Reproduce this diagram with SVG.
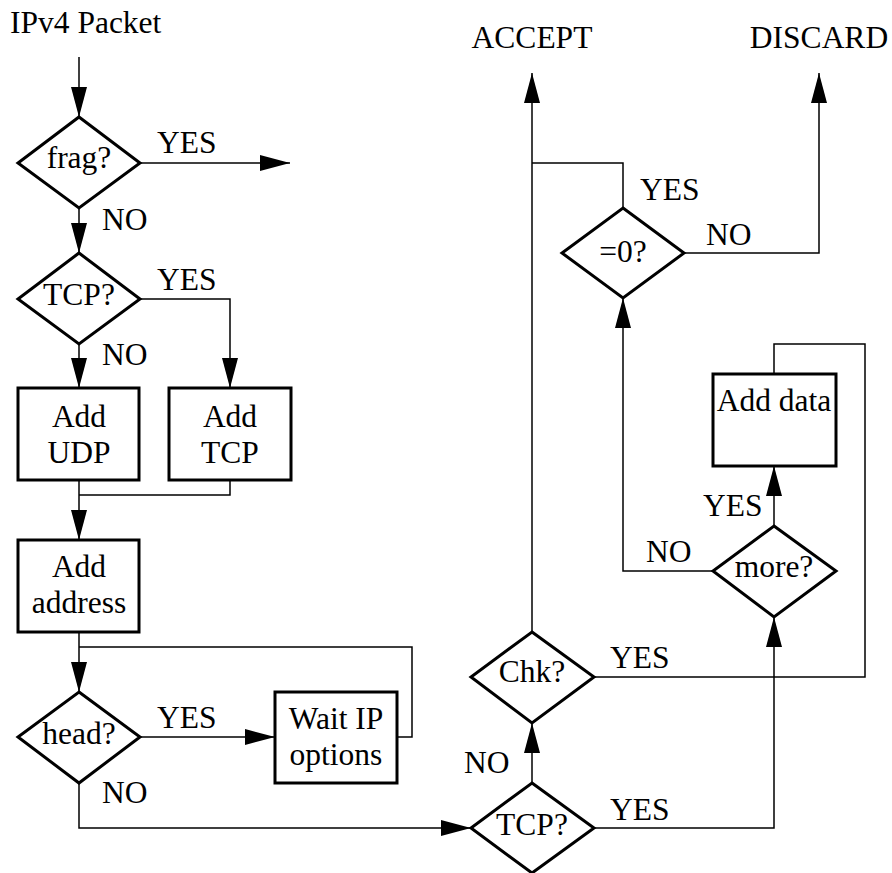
<svg xmlns="http://www.w3.org/2000/svg" width="892" height="873" viewBox="0 0 892 873">
<style>
text{font-family:"Liberation Serif","Times New Roman",serif;font-size:31.5px;fill:#000}
.m{text-anchor:middle}
.shape{fill:#fff;stroke:#000;stroke-width:3}
.c{fill:none;stroke:#000;stroke-width:1.5}
.a{marker-end:url(#ah)}
</style>
<defs>
<marker id="ah" markerWidth="30" markerHeight="16" refX="30" refY="8" orient="auto" markerUnits="userSpaceOnUse" viewBox="0 0 30 16"><path d="M0,0 L30,8 L0,16 Z" fill="#000"/></marker>
</defs>
<rect width="892" height="873" fill="#fff"/>
<g id="connectors">
<path class="c a" d="M79,57 V117"/>
<path class="c a" d="M140,163 H290"/>
<path class="c a" d="M79,208 V253"/>
<path class="c a" d="M79,344 V388"/>
<path class="c a" d="M140,299 H230 V388"/>
<path class="c a" d="M79,480 V540"/>
<path class="c" d="M230,480 V495 H79"/>
<path class="c a" d="M79,632 V692"/>
<path class="c" d="M397,737 H412 V647 H79"/>
<path class="c a" d="M140,737 H275"/>
<path class="c a" d="M79,783 V828 H471"/>
<path class="c a" d="M532,783 V723"/>
<path class="c a" d="M594,828 H774 V617"/>
<path class="c" d="M594,677 H865 V344 H774 V374"/>
<path class="c a" d="M532,632 V73"/>
<path class="c" d="M623,208 V163 H532"/>
<path class="c a" d="M684,253 H819 V73"/>
<path class="c a" d="M713,571 H623 V298"/>
<path class="c a" d="M774,526 V466"/>
</g>
<g id="labels">
<text x="157" y="153">YES</text>
<text x="102" y="230">NO</text>
<text x="157" y="290">YES</text>
<text x="102" y="365">NO</text>
<text x="157" y="728">YES</text>
<text x="102" y="803">NO</text>
<text x="464" y="773">NO</text>
<text x="610" y="820">YES</text>
<text x="610" y="668">YES</text>
<text x="646" y="562">NO</text>
<text x="703" y="516">YES</text>
<text x="640" y="200">YES</text>
<text x="706" y="245">NO</text>
</g>
<g id="start"><text x="10" y="33">IPv4 Packet</text></g>
<g id="accept"><text class="m" x="532" y="48">ACCEPT</text></g>
<g id="discard"><text class="m" x="819" y="48">DISCARD</text></g>
<g id="frag"><path class="shape" d="M79,117 L140,163 L79,208 L18,163 Z"/><text class="m" x="79" y="168">frag?</text></g>
<g id="tcp1"><path class="shape" d="M79,253 L140,299 L79,344 L18,299 Z"/><text class="m" x="79" y="305">TCP?</text></g>
<g id="addudp"><rect class="shape" x="18" y="388" width="121" height="92"/><text class="m" x="79" y="427">Add</text><text class="m" x="79" y="463">UDP</text></g>
<g id="addtcp"><rect class="shape" x="169" y="388" width="122" height="92"/><text class="m" x="230" y="427">Add</text><text class="m" x="230" y="463">TCP</text></g>
<g id="addaddress"><rect class="shape" x="18" y="540" width="121" height="92"/><text class="m" x="79" y="577">Add</text><text class="m" x="79" y="613">address</text></g>
<g id="head"><path class="shape" d="M79,692 L140,737 L79,783 L18,737 Z"/><text class="m" x="79" y="744">head?</text></g>
<g id="waitip"><rect class="shape" x="275" y="692" width="122" height="91"/><text class="m" x="336" y="729">Wait IP</text><text class="m" x="336" y="765">options</text></g>
<g id="tcp2"><path class="shape" d="M532,783 L594,828 L532,873 L471,828 Z"/><text class="m" x="532" y="835">TCP?</text></g>
<g id="chk"><path class="shape" d="M532,632 L594,677 L532,723 L471,677 Z"/><text class="m" x="532" y="682">Chk?</text></g>
<g id="more"><path class="shape" d="M774,526 L836,571 L774,617 L713,571 Z"/><text class="m" x="774" y="577">more?</text></g>
<g id="adddata"><rect class="shape" x="713" y="374" width="123" height="92"/><text class="m" x="774" y="411">Add data</text></g>
<g id="zero"><path class="shape" d="M623,208 L684,253 L623,298 L562,253 Z"/><text class="m" x="623" y="262">=0?</text></g>
</svg>
